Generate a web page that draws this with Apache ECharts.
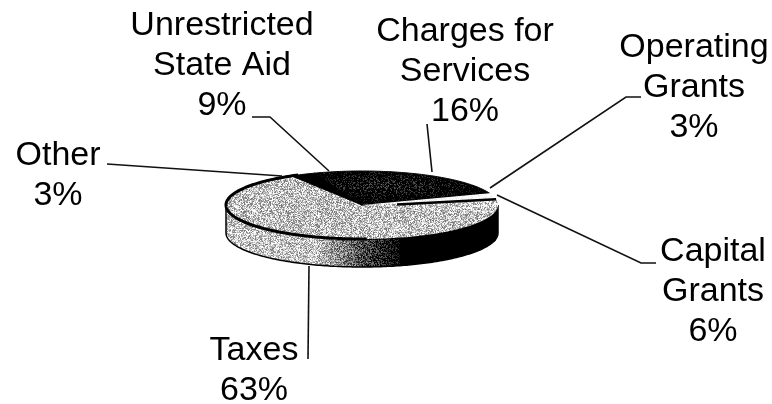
<!DOCTYPE html>
<html>
<head>
<meta charset="utf-8">
<style>html,body{margin:0;padding:0;background:#fff}#main{width:772px;height:404px}</style>
<script src="https://cdn.jsdelivr.net/npm/echarts@6/dist/echarts.min.js"></script>
</head>
<body>
<div id="main"></div>
<script>
// Revenue shares, clockwise from the right-hand edge of the disc.
const categories = ['Taxes', 'Other', 'Unrestricted\nState Aid', 'Charges for\nServices', 'Operating\nGrants', 'Capital\nGrants'];
const shares = [63, 3, 9, 16, 3, 6];

// Label placement: centre x and top y of each text block.
const labelCentres = [[254, 331], [58, 136], [222, 6], [465, 12], [694, 28], [713, 232]];
// Leader routes, from the label side to the disc.
const leaderRoutes = [
  [[308, 359], [309, 266]],
  [[107, 164], [282, 176]],
  [[252, 117], [270, 117], [329, 171]],
  [[427, 124], [432, 172]],
  [[641, 97], [626, 97], [490, 188]],
  [[656, 263], [641, 263], [497, 195]]
];

// Disc geometry.
const disc = { cx: 362, cy: 205, rx: 136, ry: 34, depth: 28, startDeg: 12 };

// Stippled fills: a shade function of pixel position plus a fixed per-pixel grain.
function grain(x, y) {
  const s = Math.sin(x * 12.9898 + y * 78.233) * 43758.5453;
  return s - Math.floor(s);
}
function halftone(shade, amount) {
  const c = document.createElement('canvas');
  c.width = 772; c.height = 404;
  const g = c.getContext('2d');
  const img = g.createImageData(772, 404);
  for (let y = 0; y < 404; y++) {
    for (let x = 0; x < 772; x++) {
      const raw = shade(x, y) + (grain(x, y) - 0.5) * amount;
      const v = Math.max(0, Math.min(255, raw * 255));
      const i = (y * 772 + x) * 4;
      img.data[i] = img.data[i + 1] = img.data[i + 2] = v;
      img.data[i + 3] = 255;
    }
  }
  g.putImageData(img, 0, 0);
  return { image: c, repeat: 'no-repeat' };
}
const darkShade = (x, y) => {
  const d = Math.hypot((x - 385) / 100, (y - 185) / 18);
  return Math.max(-0.3, 0.04 - 0.28 * d);
};
const topFills = [
  halftone(() => 0.76, 0.65),
  halftone(() => -0.4, 0.65),
  halftone(darkShade, 0.8),
  halftone(darkShade, 0.8),
  halftone(() => 1.0, 0.2),
  halftone(() => 0.8, 0.65)
];
const sideFill = halftone((x) => {
  if (x < 315) return 0.78;
  if (x < 400) return 0.78 * (400 - x) / 85 - 0.1 * (x - 315) / 85;
  return -0.5;
}, 0.65);

const total = shares.reduce((a, b) => a + b, 0);
const spans = [];
shares.reduce((from, v) => {
  const to = from + v / total * 360;
  spans.push([from, to]);
  return to;
}, disc.startDeg);

function rim(deg, dy) {
  const t = deg * Math.PI / 180;
  return [disc.cx + disc.rx * Math.cos(t), disc.cy + disc.ry * Math.sin(t) + (dy || 0)];
}
function arc(from, to, dy) {
  const pts = [];
  const n = Math.max(2, Math.ceil(Math.abs(to - from)));
  for (let i = 0; i <= n; i++) pts.push(rim(from + (to - from) * i / n, dy));
  return pts;
}
// Part of a span that falls on the front half of the disc, where the wall shows.
function frontParts(span) {
  const parts = [];
  [0, -360].forEach((shift) => {
    const a = Math.max(span[0] + shift, 0);
    const b = Math.min(span[1] + shift, 180);
    if (b > a) parts.push([a, b]);
  });
  return parts;
}

function renderSlice(params, api) {
  const i = api.value(0);
  const span = spans[i];
  const children = [];
  frontParts(span).forEach((p) => {
    children.push({
      type: 'polygon',
      shape: { points: arc(p[0], p[1], 0).concat(arc(p[1], p[0], disc.depth)) },
      style: { fill: sideFill, stroke: '#000', lineWidth: 1.5 },
      z2: 1
    });
  });
  children.push({
    type: 'polygon',
    shape: { points: [[disc.cx, disc.cy]].concat(arc(span[0], span[1], 0)) },
    style: { fill: topFills[i], stroke: i >= 1 && i <= 3 ? '#000' : 'none', lineWidth: 1 },
    z2: 2
  });
  // Dark seam between the two grant slices.
  if (categories[i].indexOf('Capital') === 0) {
    children.push({
      type: 'polyline',
      shape: { points: [[disc.cx + 35, disc.cy - 0.5], rim(span[0], 0)] },
      style: { fill: 'none', stroke: '#000', lineWidth: 2.5 },
      z2: 3
    });
  }
  return { type: 'group', children };
}

function renderLabel(params, api) {
  const i = api.value(0);
  return {
    type: 'group',
    children: [
      {
        type: 'polyline',
        shape: { points: leaderRoutes[i] },
        style: { fill: 'none', stroke: '#111', lineWidth: 1.6 },
        z2: 5
      },
      {
        type: 'text',
        x: labelCentres[i][0],
        y: labelCentres[i][1],
        style: {
          text: categories[i] + '\n' + api.value(1) + '%',
          font: '34px "Liberation Sans", Arial, sans-serif',
          lineHeight: 40,
          fill: '#000',
          align: 'center',
          verticalAlign: 'top'
        },
        z2: 6
      }
    ]
  };
}

// Heavy outline along the left of the top face, between it and the wall.
function renderRim() {
  return {
    type: 'polyline',
    shape: { points: arc(88, 242, 0) },
    style: { fill: 'none', stroke: '#000', lineWidth: 3 },
    z2: 3
  };
}

const rows = shares.map((v, i) => [i, v]);
const chart = echarts.init(document.getElementById('main'), null, { renderer: 'canvas' });
chart.setOption({
  animation: false,
  backgroundColor: '#fff',
  series: [
    { type: 'custom', coordinateSystem: 'none', silent: true, data: rows, renderItem: renderSlice, z: 1 },
    { type: 'custom', coordinateSystem: 'none', silent: true, data: [[0]], renderItem: renderRim, z: 2 },
    { type: 'custom', coordinateSystem: 'none', silent: true, data: rows, renderItem: renderLabel, z: 3 }
  ]
});
</script>
</body>
</html>
